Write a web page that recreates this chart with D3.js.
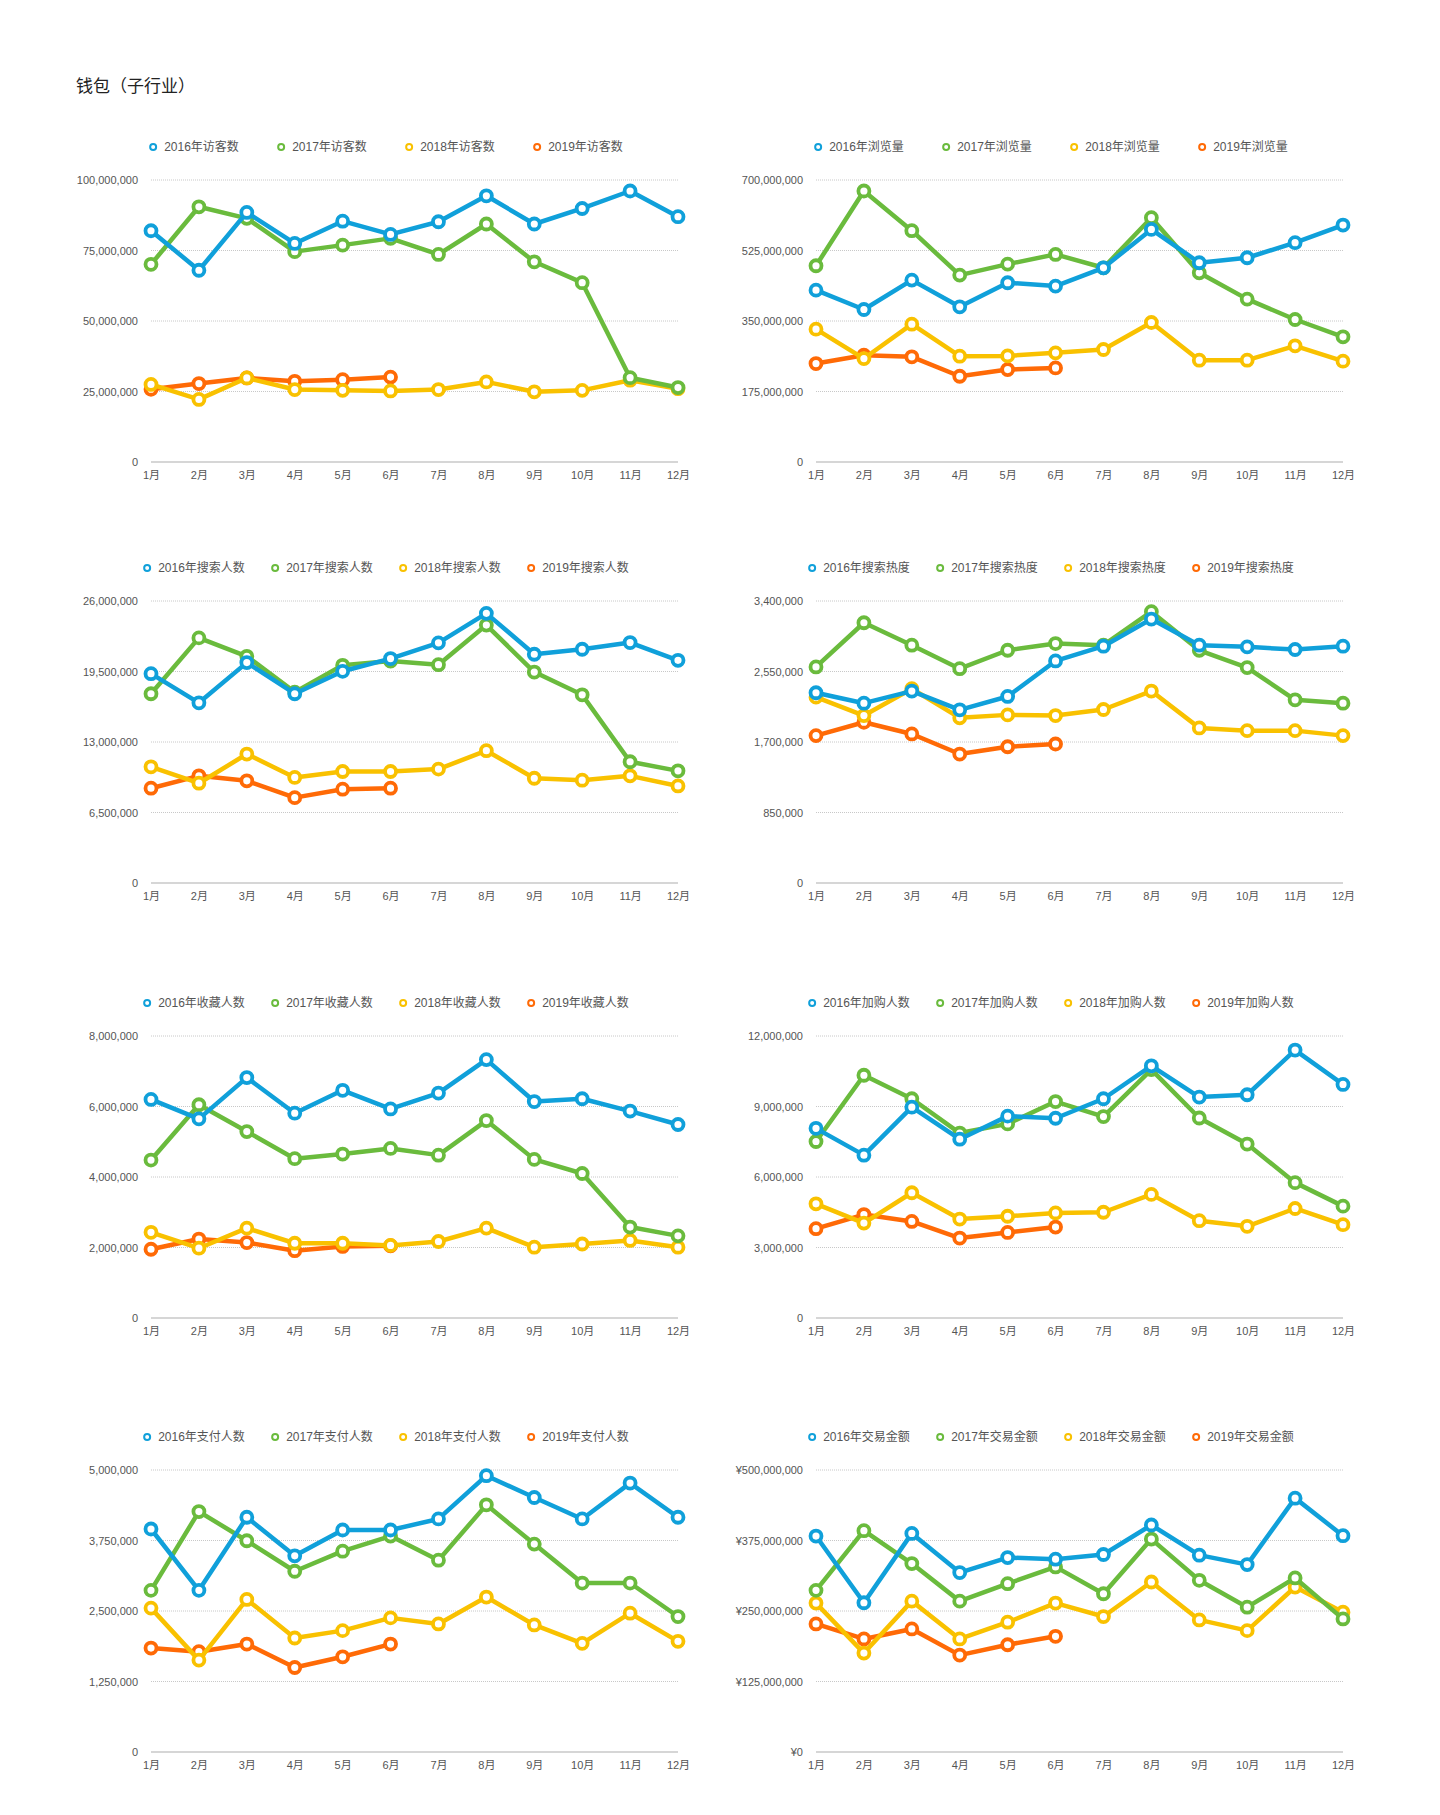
<!DOCTYPE html>
<html>
<head>
<meta charset="utf-8">
<script src="https://cdn.jsdelivr.net/npm/d3@7"></script>
<style>
  body { margin: 0; background: #fff; }
  text { font-family: "Liberation Sans", Arial, "Noto Sans CJK SC", sans-serif; }
</style>
</head>
<body>
<svg id="chart" width="1440" height="1815"></svg>
<script>
// month labels and series names
const months = ["1月","2月","3月","4月","5月","6月","7月","8月","9月","10月","11月","12月"];
const years = ["2016年","2017年","2018年","2019年"];
const colors = ["#10a0da", "#6abb3d", "#f9c100", "#ff6a06"];
const metrics = ["访客数","浏览量","搜索人数","搜索热度","收藏人数","加购人数","支付人数","交易金额"];
const yMax = [100000000, 700000000, 26000000, 3400000, 8000000, 12000000, 5000000, 500000000];

// values in millions, one array per year (2019 only Jan-Jun)
const visitors = [
  [82.0, 68.0, 88.5, 77.5, 85.4, 80.7, 85.2, 94.4, 84.4, 89.9, 96.1, 87.0],
  [70.1, 90.5, 86.4, 74.6, 76.9, 79.3, 73.6, 84.4, 71.0, 63.6, 29.9, 26.4],
  [27.5, 22.2, 29.8, 25.7, 25.4, 25.2, 25.7, 28.4, 24.9, 25.4, 29.0, 26.0],
  [25.8, 27.8, 29.8, 28.6, 29.2, 30.1]
];
const pageviews = [
  [426.6, 378.6, 451.5, 385.2, 444.9, 436.6, 482.1, 577.4, 494.6, 507.0, 544.3, 588.2],
  [487.1, 672.7, 574.1, 463.9, 491.2, 515.3, 482.1, 606.4, 469.7, 404.3, 353.7, 310.7],
  [329.7, 256.8, 342.1, 262.6, 263.4, 270.9, 279.2, 346.3, 252.7, 252.7, 288.3, 250.2],
  [244.4, 265.0, 261.0, 212.9, 229.5, 233.6]
];
const searchers = [
  [19.30, 16.61, 20.32, 17.45, 19.52, 20.69, 22.14, 24.86, 21.09, 21.55, 22.17, 20.53],
  [17.45, 22.60, 20.90, 17.60, 20.07, 20.47, 20.13, 23.78, 19.45, 17.35, 11.18, 10.34],
  [10.71, 9.20, 11.89, 9.73, 10.28, 10.28, 10.50, 12.20, 9.66, 9.48, 9.88, 8.95],
  [8.74, 9.88, 9.42, 7.87, 8.65, 8.74]
];
const searchHeat = [
  [2.294, 2.168, 2.314, 2.088, 2.249, 2.677, 2.855, 3.182, 2.867, 2.847, 2.815, 2.855],
  [2.605, 3.138, 2.867, 2.584, 2.806, 2.887, 2.867, 3.271, 2.806, 2.597, 2.209, 2.168],
  [2.241, 2.019, 2.342, 1.991, 2.027, 2.019, 2.092, 2.314, 1.870, 1.837, 1.837, 1.777],
  [1.777, 1.938, 1.797, 1.555, 1.643, 1.676]
];
const favorites = [
  [6.20, 5.65, 6.82, 5.81, 6.46, 5.93, 6.38, 7.33, 6.14, 6.22, 5.87, 5.49],
  [4.48, 6.05, 5.29, 4.52, 4.65, 4.81, 4.62, 5.60, 4.50, 4.10, 2.58, 2.33],
  [2.43, 1.98, 2.55, 2.12, 2.12, 2.06, 2.17, 2.55, 2.01, 2.10, 2.20, 2.01],
  [1.95, 2.24, 2.14, 1.91, 2.03, 2.05]
];
const carts = [
  [8.07, 6.93, 8.97, 7.61, 8.59, 8.50, 9.33, 10.73, 9.40, 9.50, 11.40, 9.94],
  [7.51, 10.33, 9.33, 7.87, 8.26, 9.21, 8.57, 10.57, 8.51, 7.40, 5.76, 4.76],
  [4.86, 4.04, 5.33, 4.21, 4.33, 4.47, 4.50, 5.26, 4.14, 3.90, 4.66, 3.97],
  [3.80, 4.40, 4.11, 3.40, 3.64, 3.87]
];
const buyers = [
  [3.954, 2.866, 4.162, 3.478, 3.936, 3.936, 4.132, 4.899, 4.512, 4.132, 4.768, 4.162],
  [2.866, 4.263, 3.746, 3.205, 3.561, 3.829, 3.401, 4.382, 3.686, 2.996, 2.996, 2.402],
  [2.551, 1.629, 2.705, 2.021, 2.152, 2.378, 2.271, 2.747, 2.253, 1.926, 2.461, 1.962],
  [1.843, 1.778, 1.914, 1.498, 1.688, 1.914]
];
const turnover = [
  [382.9, 264.6, 387.6, 318.1, 344.8, 341.9, 350.2, 402.5, 349.0, 332.3, 450.1, 383.5],
  [286.6, 392.4, 334.1, 267.5, 298.5, 328.2, 280.6, 377.5, 304.4, 256.8, 308.6, 236.0],
  [264.0, 175.4, 267.5, 200.4, 230.1, 264.0, 240.2, 301.4, 234.2, 215.2, 292.5, 247.9],
  [227.1, 200.4, 218.2, 171.8, 190.2, 205.1]
];
const unit = 1e6;
const allData = [visitors, pageviews, searchers, searchHeat, favorites, carts, buyers, turnover];

const svg = d3.select("#chart");
svg.append("rect").attr("width", 1440).attr("height", 1815).attr("fill", "#fff");

svg.append("text")
  .attr("x", 76).attr("y", 92)
  .attr("font-size", 17).attr("fill", "#222")
  .attr("font-family", "'Noto Sans CJK SC', sans-serif")
  .text("钱包（子行业）");

const colX = [151, 816];
const rowY = [180, 601, 1036, 1470];
const plotW = 527, plotH = 282;

function draw_panel(idx){
  const left = colX[idx % 2], top = rowY[Math.floor(idx / 2)];
  const g = svg.append("g").attr("transform", "translate(" + left + "," + top + ")");
  const x = d3.scalePoint().domain(months).range([0, plotW]);
  const y = d3.scaleLinear().domain([0, yMax[idx]]).range([plotH, 0]);
  const fmt = d3.format(",");
  const prefix = idx == 7 ? "¥" : "";
  const ticks = d3.range(5).map(i => yMax[idx] * i / 4);

  // dotted grid
  g.selectAll(".grid").data(ticks.slice(1)).enter().append("line")
    .attr("x1", 0).attr("x2", plotW)
    .attr("y1", d => y(d)).attr("y2", d => y(d))
    .attr("stroke", "#c8c8c8").attr("stroke-width", 1)
    .attr("stroke-dasharray", "1,1");
  g.append("line")
    .attr("x1", 0).attr("x2", plotW).attr("y1", plotH).attr("y2", plotH)
    .attr("stroke", "#d6d6d6").attr("stroke-width", 2);

  const yAxis = d3.axisLeft(y).tickValues(ticks).tickSize(0).tickPadding(13)
    .tickFormat(d => prefix + fmt(d));
  const ya = g.append("g").call(yAxis);
  ya.select(".domain").remove();
  ya.selectAll("text").attr("font-size", 11).attr("fill", "#555")
    .attr("font-family", "'Liberation Sans', Arial, sans-serif");

  const xAxis = d3.axisBottom(x).tickSize(0).tickPadding(9);
  const xa = g.append("g").attr("transform", "translate(0," + plotH + ")").call(xAxis);
  xa.select(".domain").remove();
  xa.selectAll("text").attr("font-size", 11).attr("fill", "#555")
    .attr("font-family", "'Liberation Sans', 'Noto Sans CJK SC', sans-serif");

  // series, 2019 first so 2016 ends on top
  const line = d3.line().x((d, i) => x(months[i])).y(d => y(d));
  for (let s = 3; s >= 0; s--){
    const vals = allData[idx][s].map(v => v * unit);
    g.append("path").datum(vals)
      .attr("d", line).attr("fill", "none")
      .attr("stroke", colors[s]).attr("stroke-width", 4.5)
      .attr("stroke-linejoin", "round");
    g.selectAll(".pt" + s).data(vals).enter().append("circle")
      .attr("cx", (d, i) => x(months[i])).attr("cy", d => y(d))
      .attr("r", 5.5).attr("fill", "#fff")
      .attr("stroke", colors[s]).attr("stroke-width", 3.8);
  }

  // legend, centred a bit left of the plot centre
  const spacing = 128;
  const lg = g.append("g").attr("transform", "translate(0," + (-33) + ")");
  const items = years.map((yr, i) => yr + metrics[idx]);
  const texts = [];
  items.forEach((t, i) => {
    const it = lg.append("g");
    it.append("circle").attr("cx", 0).attr("cy", 0).attr("r", 3)
      .attr("fill", "#fff").attr("stroke", colors[i]).attr("stroke-width", 2);
    const tx = it.append("text").attr("x", 11).attr("y", 4)
      .attr("font-size", 12).attr("fill", "#555").text(t);
    texts.push([it, tx]);
  });
  const lastW = texts[3][1].node().getComputedTextLength();
  const totalW = 3 * spacing + 11 + lastW + 3;
  const start = plotW / 2 - 28 - totalW / 2 + 3;
  texts.forEach((p, i) => p[0].attr("transform", "translate(" + (start + i * spacing) + ",0)"));
}

for (let i = 0; i < 8; i++) draw_panel(i);
</script>
</body>
</html>
